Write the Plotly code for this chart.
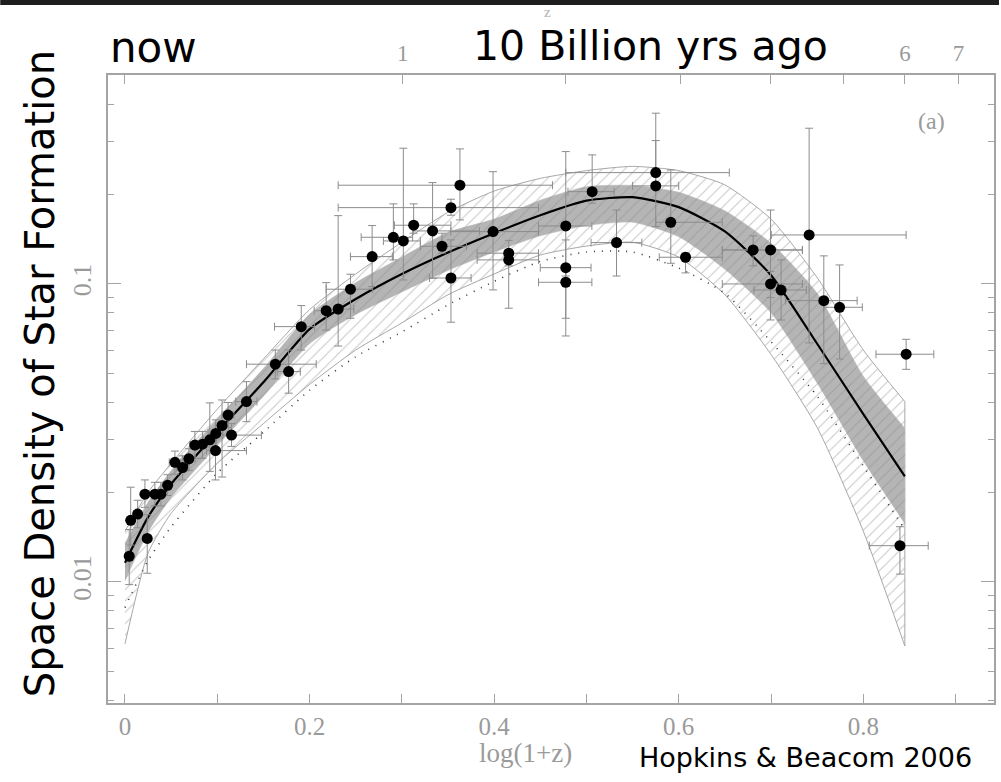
import numpy as np
import plotly.graph_objects as go

# ---------------- data ----------------
# individual measurements: log(1+z), SFR density, and error bounds
log1pz = [0.0046, 0.0062, 0.0137, 0.0241, 0.0216, 0.0324, 0.0389, 0.0462, 0.0541, 0.0624,
          0.0692, 0.0757, 0.0840, 0.0919, 0.0984, 0.1052, 0.0981, 0.1117, 0.1154, 0.1316,
          0.1629, 0.1773, 0.1910, 0.2180, 0.2310, 0.2443, 0.2678, 0.2908, 0.3016, 0.3128,
          0.3333, 0.3435, 0.3532, 0.3629, 0.3532, 0.3988, 0.4158, 0.4158, 0.4776, 0.4776,
          0.4776, 0.5062, 0.5326, 0.5751, 0.5751, 0.5914, 0.6074, 0.6806, 0.6995, 0.6995,
          0.7109, 0.7413, 0.7572, 0.7743, 0.8464, 0.8397]
sfr = [0.0122, 0.0161, 0.0169, 0.0140, 0.0197, 0.0197, 0.0197, 0.0211, 0.0252, 0.0242,
       0.0259, 0.0288, 0.0290, 0.0300, 0.0315, 0.0335, 0.0276, 0.0363, 0.0311, 0.0403,
       0.0538, 0.0508, 0.0719, 0.0813, 0.0824, 0.0960, 0.1235, 0.1434, 0.1394, 0.1574,
       0.1506, 0.1338, 0.1803, 0.2144, 0.1047, 0.1498, 0.1268, 0.1204, 0.1565, 0.1134,
       0.1013, 0.2040, 0.1376, 0.2363, 0.2133, 0.1610, 0.1229, 0.1300, 0.1300, 0.1000,
       0.0954, 0.1460, 0.0879, 0.0835, 0.0581, 0.01324]
x_low = [0.0046, 0.0062, 0.0137, 0.0241, 0.0216, 0.0324, 0.0389, 0.0462, 0.0480, 0.0560,
         0.0620, 0.0700, 0.0780, 0.0850, 0.0900, 0.0980, 0.0883, 0.1050, 0.1060, 0.1200,
         0.1316, 0.1650, 0.1620, 0.2050, 0.2150, 0.2180, 0.2443, 0.2559, 0.2800, 0.2919,
         0.3117, 0.3200, 0.2310, 0.2310, 0.3300, 0.3530, 0.3816, 0.3816, 0.4481, 0.4500,
         0.4481, 0.4800, 0.5050, 0.4776, 0.5500, 0.5751, 0.5789, 0.6472, 0.6472, 0.6472,
         0.6814, 0.7003, 0.7155, 0.7572, 0.8137, 0.8065]
x_high = [0.0046, 0.0062, 0.0137, 0.0241, 0.0216, 0.0324, 0.0389, 0.0462, 0.0600, 0.0690,
          0.0760, 0.0820, 0.0900, 0.0990, 0.1060, 0.1120, 0.1316, 0.1180, 0.1478, 0.1430,
          0.2072, 0.1900, 0.2054, 0.2320, 0.2480, 0.2684, 0.2897, 0.3117, 0.3200, 0.3532,
          0.3840, 0.3700, 0.4481, 0.4632, 0.3750, 0.4481, 0.4481, 0.4481, 0.5059, 0.5050,
          0.5059, 0.5300, 0.5600, 0.6548, 0.6000, 0.6472, 0.6472, 0.7340, 0.7340, 0.7340,
          0.7383, 0.8464, 0.7933, 0.7989, 0.8764, 0.8703]
y_low = [0.0098, 0.0133, 0.0152, 0.0107, 0.0178, 0.0180, 0.0180, 0.0195, 0.0230, 0.0220,
         0.0237, 0.0260, 0.0260, 0.0235, 0.0280, 0.0225, 0.0220, 0.0330, 0.0285, 0.0345,
         0.0480, 0.0430, 0.0600, 0.0700, 0.0619, 0.0767, 0.0980, 0.1204, 0.1031, 0.1480,
         0.1045, 0.1269, 0.1700, 0.1640, 0.0744, 0.0955, 0.1150, 0.0829, 0.1063, 0.0767,
         0.0669, 0.1866, 0.1063, 0.2133, 0.1557, 0.1173, 0.1089, 0.1150, 0.0757, 0.0900,
         0.0757, 0.0634, 0.0540, 0.0560, 0.0517, 0.01063]
y_high = [0.0150, 0.0208, 0.0188, 0.0168, 0.0220, 0.0216, 0.0216, 0.0229, 0.0275, 0.0265,
          0.0280, 0.0320, 0.0320, 0.0399, 0.0350, 0.0408, 0.0310, 0.0400, 0.0340, 0.0470,
          0.0600, 0.0600, 0.0846, 0.1010, 0.1695, 0.1078, 0.1570, 0.1856, 0.2853, 0.1856,
          0.2188, 0.1480, 0.1924, 0.2838, 0.1405, 0.2380, 0.1400, 0.1270, 0.2780, 0.1405,
          0.1150, 0.2710, 0.1770, 0.3740, 0.3027, 0.2413, 0.1270, 0.1450, 0.1770, 0.1100,
          0.1204, 0.3330, 0.1242, 0.1158, 0.0652, 0.01533]

# fitted curve, 1-sigma (grey) and 3-sigma (hatched) bands, dotted curve
curve_x = [0.0, 0.025, 0.05, 0.10, 0.15, 0.20, 0.25, 0.30, 0.35, 0.40,
           0.45, 0.50, 0.55, 0.60, 0.65, 0.70, 0.75, 0.80, 0.845]
fit_y = [0.0116, 0.0165, 0.0213, 0.0318, 0.0468, 0.0705, 0.089, 0.108, 0.1275, 0.148,
         0.170, 0.1903, 0.1955, 0.181, 0.150, 0.107, 0.063, 0.0366, 0.0226]
sig1_hi = [0.0135, 0.0185, 0.0236, 0.0352, 0.052, 0.079, 0.101, 0.123, 0.149, 0.165,
           0.191, 0.212, 0.214, 0.203, 0.176, 0.137, 0.093, 0.049, 0.0328]
sig1_lo = [0.0101, 0.0147, 0.0192, 0.0287, 0.042, 0.063, 0.079, 0.094, 0.111, 0.128,
           0.145, 0.157, 0.161, 0.144, 0.112, 0.080, 0.0465, 0.0255, 0.0157]
sig3_hi = [0.0148, 0.020, 0.025, 0.038, 0.056, 0.082, 0.108, 0.138, 0.174, 0.205,
           0.226, 0.240, 0.248, 0.240, 0.215, 0.165, 0.105, 0.060, 0.0403]
sig3_lo = [0.0062, 0.0125, 0.017, 0.025, 0.034, 0.046, 0.060, 0.074, 0.092, 0.108,
           0.125, 0.134, 0.138, 0.123, 0.092, 0.058, 0.033, 0.0148, 0.0061]
dotted_y = [0.0082, 0.0118, 0.0153, 0.0232, 0.0318, 0.044, 0.057, 0.069, 0.085, 0.102,
            0.119, 0.128, 0.128, 0.113, 0.093, 0.064, 0.042, 0.0245, 0.0150]

x_ticks = [0.0, 0.1, 0.2, 0.3, 0.4, 0.5, 0.6, 0.7, 0.8, 0.9]
x_tick_text = ["0", "", "0.2", "", "0.4", "", "0.6", "", "0.8", ""]
z_top = [0, 1, 2, 3, 4, 5, 6, 7]
z_top_text = ["", "1", "", "", "", "", "6", "7"]   # 0 and 2-5 are hidden under the overlay labels
y_major = [0.01, 0.1]
y_major_text = ["0.01", "0.1"]
y_minor = [0.004, 0.005, 0.006, 0.007, 0.008, 0.009, 0.02, 0.03, 0.04, 0.05, 0.06,
           0.07, 0.08, 0.09, 0.2, 0.3, 0.4, 0.5]

# ---------------- figure ----------------
W, H = 1001, 782
L, R, T, B = 108, 996, 75, 703
x0 = -0.0184
x1 = 0.9416
ylog0 = -2.406
ylog1 = -0.299

GRAY = "#9a9a9a"
AXC = "#a4a4a4"
SERIF = "Liberation Serif"
SANS = "DejaVu Sans"

fig = go.Figure()
cx = list(curve_x)
spl = dict(shape="spline", smoothing=0.6)

# 3-sigma hatched band (lower edge, then upper edge filled to it)
fig.add_trace(go.Scatter(x=cx, y=sig3_lo, mode="lines",
                         line=dict(color="#a8a8a8", width=1, **spl),
                         hoverinfo="skip", showlegend=False))
fig.add_trace(go.Scatter(x=cx, y=sig3_hi, mode="lines", fill="tonexty",
                         line=dict(color="#a8a8a8", width=1, **spl),
                         fillcolor="white",
                         fillpattern=dict(shape="/", fgcolor="#8c8c8c", bgcolor="white",
                                          size=8, solidity=0.12),
                         hoverinfo="skip", showlegend=False))
# closing edge of the hatched band at the last redshift
fig.add_trace(go.Scatter(x=[cx[-1], cx[-1]], y=[sig3_lo[-1], sig3_hi[-1]], mode="lines",
                         line=dict(color="#a8a8a8", width=1),
                         hoverinfo="skip", showlegend=False))
# 1-sigma grey band
fig.add_trace(go.Scatter(x=cx, y=sig1_lo, mode="lines",
                         line=dict(color="#b4b4b4", width=0.5, **spl),
                         hoverinfo="skip", showlegend=False))
fig.add_trace(go.Scatter(x=cx, y=sig1_hi, mode="lines", fill="tonexty",
                         line=dict(color="#b4b4b4", width=0.5, **spl),
                         fillcolor="#b3b3b3",
                         fillpattern=dict(shape="/", fgcolor="#8a8a8a", bgcolor="#b5b5b5",
                                          size=8, solidity=0.12),
                         hoverinfo="skip", showlegend=False))
# dotted curve
fig.add_trace(go.Scatter(x=cx, y=dotted_y, mode="lines",
                         line=dict(color="#333333", width=1.6, dash="1px,7px", **spl),
                         hoverinfo="skip", showlegend=False))
# fit curve
fig.add_trace(go.Scatter(x=cx, y=fit_y, mode="lines",
                         line=dict(color="black", width=2.2, **spl),
                         hoverinfo="skip", showlegend=False))

# data points with error bars
ex_p = [h - x for h, x in zip(x_high, log1pz)]
ex_m = [x - l for l, x in zip(x_low, log1pz)]
ey_p = [h - y for h, y in zip(y_high, sfr)]
ey_m = [y - l for l, y in zip(y_low, sfr)]
fig.add_trace(go.Scatter(
    x=log1pz, y=sfr, mode="markers",
    marker=dict(color="black", size=11, line=dict(width=0)),
    error_x=dict(type="data", symmetric=False, array=ex_p, arrayminus=ex_m,
                 color="#8c8c8c", thickness=1, width=4),
    error_y=dict(type="data", symmetric=False, array=ey_p, arrayminus=ey_m,
                 color="#8c8c8c", thickness=1, width=4),
    hoverinfo="skip", showlegend=False))

# dummy trace so the top redshift axis is drawn
fig.add_trace(go.Scatter(x=[None], y=[None], xaxis="x2", yaxis="y",
                         showlegend=False, hoverinfo="skip"))

fig.update_layout(
    width=W, height=H,
    margin=dict(l=L, r=W - R, t=T, b=H - B, pad=0),
    paper_bgcolor="white", plot_bgcolor="white",
    showlegend=False,
    xaxis=dict(range=[x0, x1], showgrid=False, zeroline=False,
               showline=True, linecolor=AXC, linewidth=1.5, mirror=True,
               ticks="inside", ticklen=9, tickcolor=AXC, tickwidth=1,
               tickvals=x_ticks, ticktext=x_tick_text,
               tickfont=dict(family=SERIF, size=25, color=GRAY)),
    xaxis2=dict(range=[x0, x1], overlaying="x", side="top", anchor="y",
                showgrid=False, zeroline=False, showline=False,
                ticks="inside", ticklen=9, tickcolor=AXC, tickwidth=1,
                tickvals=[float(np.log10(1 + z)) for z in z_top], ticktext=z_top_text,
                ticklabelstandoff=8,
                tickfont=dict(family=SERIF, size=23, color=GRAY)),
    yaxis=dict(type="log", range=[ylog0, ylog1], showgrid=False, zeroline=False,
               showline=True, linecolor=AXC, linewidth=1.5, mirror="ticks",
               ticks="inside", ticklen=13, tickcolor=AXC, tickwidth=1,
               tickvals=y_major, ticktext=y_major_text, tickangle=-90,
               ticklabelstandoff=5,
               tickfont=dict(family=SERIF, size=26, color=GRAY),
               minor=dict(ticks="inside", ticklen=6, tickcolor=AXC,
                          tickvals=y_minor, showgrid=False)),
)

def px(xp):
    return (xp - L) / (R - L)

def py(yp):
    return (B - yp) / (B - T)

# dark strip at the top of the image, white boxes behind the overlay labels
fig.add_shape(type="rect", xref="paper", yref="paper", x0=px(0), x1=px(W),
              y0=py(5), y1=py(0), fillcolor="#1e1e1e", line=dict(width=0), layer="above")
fig.add_shape(type="rect", xref="paper", yref="paper", x0=px(98), x1=px(206),
              y0=py(72), y1=py(5), fillcolor="white", line=dict(width=0), layer="above")
fig.add_shape(type="rect", xref="paper", yref="paper", x0=px(468), x1=px(851),
              y0=py(72), y1=py(20), fillcolor="white", line=dict(width=0), layer="above")

ann = []
ann.append(dict(text="log(1+z)", x=px(526), y=py(753), xanchor="center", yanchor="middle",
                showarrow=False, font=dict(family=SERIF, size=27, color=GRAY)))
ann.append(dict(text="(a)", x=px(933), y=py(121), xanchor="center", yanchor="middle",
                showarrow=False, font=dict(family=SERIF, size=24, color=GRAY)))
ann.append(dict(text="z", x=px(548), y=py(12), xanchor="center", yanchor="middle",
                showarrow=False, font=dict(family=SERIF, size=15, color="#b0b0b0")))
ann.append(dict(text="now", x=px(108), y=py(47), xanchor="left", yanchor="middle",
                showarrow=False, font=dict(family=SANS, size=42, color="black")))
ann.append(dict(text="10 Billion yrs ago", x=px(832), y=py(46), xanchor="right",
                yanchor="middle", showarrow=False,
                font=dict(family=SANS, size=41, color="black")))
ann.append(dict(text="Space Density of Star Formation", x=px(40), y=py(374),
                xanchor="center", yanchor="middle", textangle=-90, showarrow=False,
                font=dict(family=SANS, size=40, color="black")))
ann.append(dict(text="Hopkins &amp; Beacom 2006", x=px(638), y=py(757), xanchor="left",
                yanchor="middle", showarrow=False,
                font=dict(family=SANS, size=27, color="black")))
for a in ann:
    a["xref"] = "paper"
    a["yref"] = "paper"
fig.update_layout(annotations=ann)

fig.write_html("out.html", config={"displayModeBar": False},
               post_script="document.body.style.margin='0px';")
